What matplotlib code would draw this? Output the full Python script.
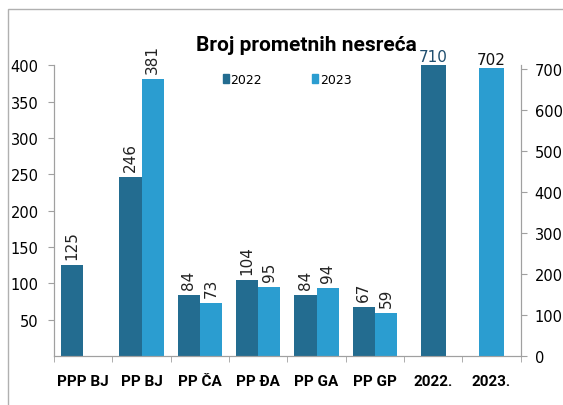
import matplotlib.pyplot as plt
import matplotlib.patches as mpatches
import numpy as np

# data
stanice = ["PPP BJ", "PP BJ", "PP ČA", "PP ĐA", "PP GA", "PP GP"]
god_2022 = [125, 246, 84, 104, 84, 67]
god_2023 = [None, 381, 73, 95, 94, 59]
ukupno_labels = ["2022.", "2023."]
ukupno = [710, 702]

c22 = "#236c90"
c23 = "#2b9dd0"
spine_c = "#a0a0a0"

fig = plt.figure(figsize=(5.63, 4.06), dpi=100)
ax = fig.add_axes([0.096, 0.121, 0.829, 0.716])
ax2 = ax.twinx()

w = 0.38
x = np.arange(len(stanice))
for i in range(len(stanice)):
    ax.bar(x[i] - w / 2, god_2022[i], w, color=c22)
    ax.text(x[i] - w / 2, god_2022[i] + 8, str(god_2022[i]), rotation=90,
            ha="center", va="bottom", fontsize=11, color="#222222")
    if god_2023[i] is not None:
        ax.bar(x[i] + w / 2, god_2023[i], w, color=c23)
        ax.text(x[i] + w / 2, god_2023[i] + 8, str(god_2023[i]), rotation=90,
                ha="center", va="bottom", fontsize=11, color="#222222",
                clip_on=False)

xt = np.arange(len(stanice), len(stanice) + 2)
ax2.bar(xt, ukupno, 0.43, color=[c22, c23])
ax2.text(xt[0], ukupno[0] + 4, str(ukupno[0]), ha="center", va="bottom",
         fontsize=11, color="#1f4e6e")
ax2.text(xt[1], ukupno[1] + 4, str(ukupno[1]), ha="center", va="bottom",
         fontsize=11, color="#111111")

ax.set_xlim(-0.5, len(stanice) + 1.5)
ax.set_ylim(0, 400)
ax2.set_ylim(0, 710)

ax.set_xticks(list(x) + list(xt))
ax.set_xticklabels(stanice + ukupno_labels, fontfamily="Roboto",
                   fontweight="bold", fontsize=11)
ax.set_xticks(np.arange(-0.5, len(stanice) + 2, 1), minor=True)
ax.tick_params(axis="x", which="major", length=0, pad=13)
ax.tick_params(axis="x", which="minor", length=4, color=spine_c)

ax.set_yticks(np.arange(50, 401, 50))
ax.tick_params(axis="y", length=4, color=spine_c, labelsize=10.5, pad=7)
ax2.set_yticks(np.arange(0, 701, 100))
ax2.tick_params(axis="y", length=4, color=spine_c, labelsize=10.5, pad=6)

for a in (ax, ax2):
    a.spines["top"].set_visible(False)
    for s in ("left", "right", "bottom"):
        a.spines[s].set_color(spine_c)

fig.text(0.545, 0.888, "Broj prometnih nesreća", ha="center", va="center",
         fontsize=15, fontweight="bold", fontfamily="Roboto")

h = [mpatches.Patch(color=c22, label="2022"), mpatches.Patch(color=c23, label="2023")]
fig.legend(handles=h, loc="center", bbox_to_anchor=(0.51, 0.802), ncol=2,
           frameon=False, handlelength=0.5, handleheight=0.8, handletextpad=0.1,
           columnspacing=4, fontsize=9)

fig.patches.append(mpatches.Rectangle((0.014, -0.01), 1.0, 0.985, transform=fig.transFigure,
                                      fill=False, edgecolor="#b0b0b0", lw=1))

fig.savefig("out.png", dpi=100)
